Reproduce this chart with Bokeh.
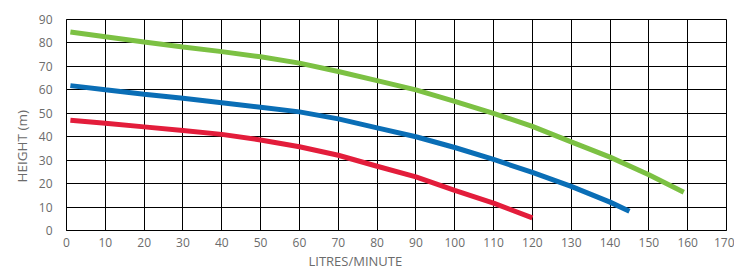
from bokeh.plotting import figure
from bokeh.models import Range1d, FixedTicker, Title
from bokeh.embed import file_html
from bokeh.resources import INLINE

# Flow (litres/minute) and head (m) for three pump curves
green_x = [1, 10, 20, 30, 40, 50, 60, 70, 80, 90, 100, 110, 120, 130, 140, 150, 159]
green_y = [84.7, 82.6, 80.4, 78.3, 76.3, 74.1, 71.4, 67.8, 63.9, 60.0, 55.1, 50.0, 44.4, 37.8, 31.3, 23.8, 16.3]

blue_x = [1, 10, 20, 30, 40, 50, 60, 70, 80, 90, 100, 110, 120, 130, 140, 145]
blue_y = [61.8, 60.0, 58.1, 56.4, 54.5, 52.6, 50.6, 47.6, 43.8, 40.0, 35.4, 30.3, 24.8, 18.8, 12.1, 8.2]

red_x = [1, 10, 20, 30, 40, 50, 60, 70, 80, 90, 100, 110, 120]
red_y = [47.0, 45.7, 44.2, 42.7, 41.0, 38.6, 35.7, 32.1, 27.4, 22.9, 17.1, 11.7, 5.4]

x_ticks = list(range(0, 171, 10))
y_ticks = list(range(0, 91, 10))

FONT = "Open Sans"
TXT = "#6b6b6b"

p = figure(frame_width=660, frame_height=211, output_backend="svg", toolbar_location=None,
           x_range=Range1d(0, 170), y_range=Range1d(0, 90),
           min_border_left=66, min_border_right=8, min_border_top=19, min_border_bottom=10)

p.outline_line_color = "black"
p.outline_line_width = 1
p.background_fill_color = "white"
p.border_fill_color = "white"

for g in (p.xgrid[0], p.ygrid[0]):
    g.grid_line_color = "black"
    g.grid_line_width = 1
    g.grid_line_alpha = 1.0
p.xgrid[0].ticker = FixedTicker(ticks=x_ticks)
p.ygrid[0].ticker = FixedTicker(ticks=y_ticks)

p.xaxis[0].ticker = FixedTicker(ticks=x_ticks)
p.yaxis[0].ticker = FixedTicker(ticks=y_ticks)
for ax in (p.xaxis[0], p.yaxis[0]):
    ax.axis_line_color = "black"
    ax.major_tick_line_color = None
    ax.minor_tick_line_color = None
    ax.major_tick_in = 0
    ax.major_tick_out = 0
    ax.major_label_text_font = FONT
    ax.major_label_text_font_size = "12px"
    ax.major_label_text_color = TXT
p.xaxis[0].major_label_standoff = 7
p.yaxis[0].major_label_standoff = 14

p.line(green_x, green_y, line_color="#7cc143", line_width=5)
p.line(blue_x, blue_y, line_color="#0a6eb6", line_width=5)
p.line(red_x, red_y, line_color="#e31d3b", line_width=5)

xt = Title(text="LITRES/MINUTE", align="left", offset=242, standoff=0,
           text_font=FONT, text_font_size="13px", text_color=TXT, text_font_style="normal")
p.add_layout(xt, "below")
yt = Title(text="HEIGHT (m)", align="left", offset=48,
           text_font=FONT, text_font_size="13.5px", text_color=TXT, text_font_style="normal")
p.add_layout(yt, "left")

open("out.html", "w").write(file_html(p, INLINE))
